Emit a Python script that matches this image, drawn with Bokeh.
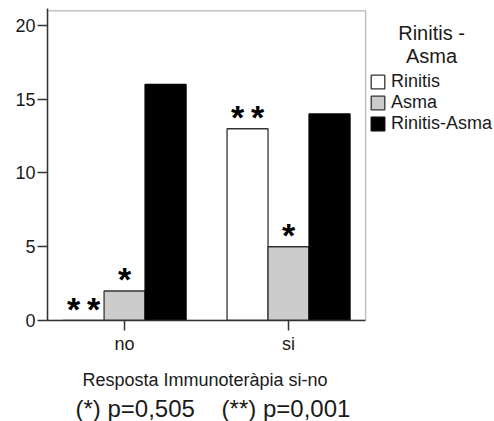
from bokeh.plotting import figure
from bokeh.models import (Range1d, FixedTicker, Legend, LegendItem, Label,
                          Title, BoxAnnotation, ColumnDataSource)
from bokeh.transform import dodge
from bokeh.core.properties import value
from bokeh.embed import file_html
from bokeh.resources import INLINE

# Counts per response group and diagnosis
categories = ["no", "si"]
series_names = ["Rinitis", "Asma", "Rinitis-Asma"]
rinitis = [0, 13]
asma = [2, 5]
rinitis_asma = [16, 14]
# significance marks drawn over each bar
rinitis_marks = ["**", "**"]
asma_marks = ["*", "*"]
rinitis_asma_marks = ["", ""]
y_ticks = [0, 5, 10, 15, 20]
y_max = 21
x_title = "Resposta Immunoteràpia si-no"
p_note = "(*) p=0,505\u00a0\u00a0\u00a0\u00a0(**) p=0,001"
legend_title = ["Rinitis -", "Asma"]

FONT = "Liberation Sans"
EDGE = "#333333"
TEXT = "#1a1a1a"

# the plotting box covers x in [-0.47, 1.47]; the area to its right holds the key
X0, X1 = -0.47, 1.47
p = figure(width=494, height=421, output_backend="svg", toolbar_location=None,
           x_range=Range1d(X0, 2.256), y_range=Range1d(0, 21.15),
           min_border_left=47, min_border_right=0, min_border_top=8,
           min_border_bottom=101)
p.background_fill_color = "white"
p.border_fill_color = "white"
p.outline_line_color = None
p.grid.visible = False

# box around the bars
p.add_layout(BoxAnnotation(left=X0, right=X1, bottom=0, top=y_max,
                           fill_alpha=0, line_color=EDGE, line_width=1.5))


def spaced(marks):
    # a thin gap between neighbouring asterisks
    return ["\u2009".join(m) for m in marks]


src = ColumnDataSource(dict(
    x=list(range(len(categories))),
    rinitis=rinitis, asma=asma, rinitis_asma=rinitis_asma,
    m_rinitis=spaced(rinitis_marks), m_asma=spaced(asma_marks),
    m_ra=spaced(rinitis_asma_marks),
))

bw = 0.25
specs = [("rinitis", -bw, "white", EDGE, "m_rinitis"),
         ("asma", 0.0, "#cccccc", EDGE, "m_asma"),
         ("rinitis_asma", bw, "black", "black", "m_ra")]
renderers = []
for col, off, fill, line, mcol in specs:
    r = p.vbar(x=dodge("x", off, range=p.x_range), top=col, width=bw, source=src,
               fill_color=fill, line_color=line, line_width=1.3)
    renderers.append(r)
    p.text(x=dodge("x", off, range=p.x_range), y=col, text=mcol, source=src,
           text_align="center", text_baseline="alphabetic", y_offset=-12,
           text_font=value(FONT), text_font_size="34px", text_font_style="bold",
           text_color="black")

# axes
p.xaxis.ticker = FixedTicker(ticks=list(range(len(categories))))
p.xaxis.major_label_overrides = {i: c for i, c in enumerate(categories)}
p.xaxis.bounds = (X0, X1)
p.yaxis.ticker = FixedTicker(ticks=y_ticks)
for ax in (p.xaxis, p.yaxis):
    ax.axis_line_color = EDGE
    ax.axis_line_width = 1.5
    ax.major_tick_line_color = EDGE
    ax.major_tick_line_width = 1.5
    ax.major_tick_in = 0
    ax.major_tick_out = 10
    ax.minor_tick_line_color = None
    ax.major_label_text_font = FONT
    ax.major_label_text_font_size = "18px"
    ax.major_label_text_color = TEXT
p.yaxis.major_label_standoff = 2
p.xaxis.major_label_standoff = 3

# axis title and test results, centred under the box
p.add_layout(Title(text=x_title, align="left", offset=35, text_font=FONT,
                   text_font_size="18px", text_font_style="normal",
                   text_color=TEXT, standoff=22), "below")
p.add_layout(Title(text=p_note, align="left", offset=28, text_font=FONT,
                   text_font_size="24px", text_font_style="normal",
                   text_color=TEXT, standoff=-16), "below")

# key to the right of the box
items = [LegendItem(label=n, renderers=[r]) for n, r in zip(series_names, renderers)]
legend = Legend(items=items, location=(322, 186), border_line_color=None,
                background_fill_alpha=0, padding=0, margin=0, spacing=0,
                glyph_width=17, glyph_height=17, label_standoff=5,
                label_text_font=FONT, label_text_font_size="18px",
                label_text_color=TEXT, label_height=17)
p.add_layout(legend, "center")

for i, t in enumerate(legend_title):
    p.add_layout(Label(x=1.872, y=19.52 - i * 1.56, text=t, text_align="center",
                       text_baseline="middle", text_font=FONT,
                       text_font_size="20px", text_color=TEXT))

open("out.html", "w").write(file_html(p, INLINE))
